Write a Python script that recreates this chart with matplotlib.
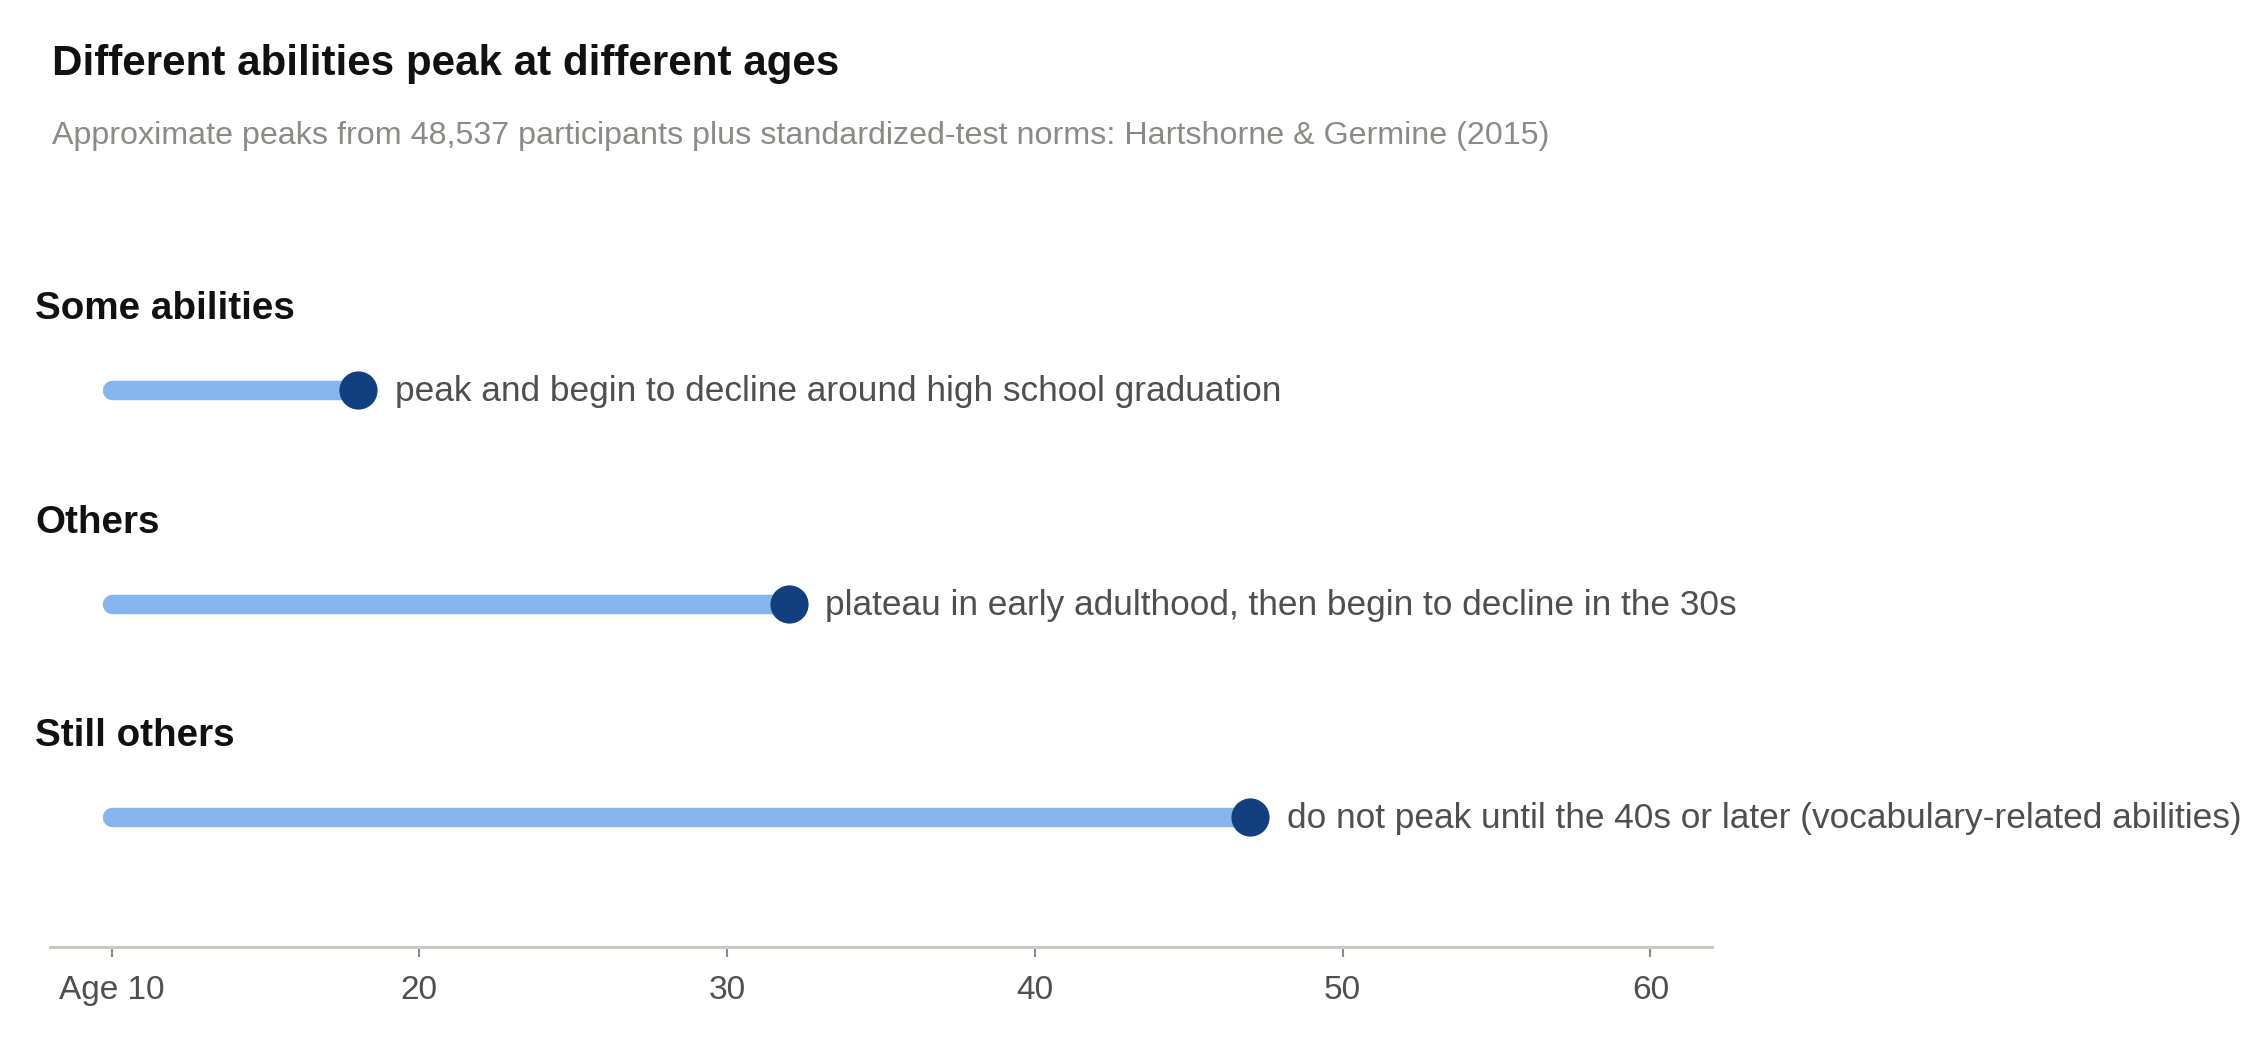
import matplotlib
matplotlib.use("Agg")
import matplotlib.pyplot as plt
from matplotlib.transforms import blended_transform_factory

# data
groups = ["Some abilities", "Others", "Still others"]
notes = [
    "peak and begin to decline around high school graduation",
    "plateau in early adulthood, then begin to decline in the 30s",
    "do not peak until the 40s or later (vocabulary-related abilities)",
]
start_age = 10
peak_ages = [18, 32, 47]
tick_ages = [10, 20, 30, 40, 50, 60]
tick_labels = ["Age 10", "20", "30", "40", "50", "60"]

title = "Different abilities peak at different ages"
subtitle = ("Approximate peaks from 48,537 participants plus "
            "standardized-test norms: Hartshorne & Germine (2015)")

plt.rcParams["font.family"] = ["Liberation Sans", "DejaVu Sans"]

W, H = 2256, 1040
fig = plt.figure(figsize=(W / 100, H / 100), dpi=100)

# axes placed in pixel terms of the reference
ax_left, ax_right = 50, 1712
ax_top, ax_bottom = 150, 947
ax = fig.add_axes([ax_left / W, 1 - ax_bottom / H,
                   (ax_right - ax_left) / W, (ax_bottom - ax_top) / H])

row0, row_gap = 390, 213.5
ax.set_xlim(8, 62)
ax.set_ylim((ax_bottom - row0) / row_gap, (ax_top - row0) / row_gap)

line_col = "#86b5ed"
dot_col = "#123f80"
text_col = "#4f4f4f"

label_tr = blended_transform_factory(fig.transFigure, ax.transData)

for i, (g, note, peak) in enumerate(zip(groups, notes, peak_ages)):
    ax.plot([start_age, peak], [i, i], color=line_col, lw=14,
            solid_capstyle="round", zorder=2)
    ax.plot([peak], [i], "o", color=dot_col, ms=27.5, mew=0, zorder=3)
    ax.annotate(note, xy=(peak, i), xytext=(26.5, -8.2),
                textcoords="offset points", va="baseline", ha="left",
                fontsize=25.4, color=text_col, annotation_clip=False)
    ax.text(35 / W, i - 70.5 / row_gap, g, transform=label_tr,
            fontsize=27.8, fontweight="bold", color="#111111",
            va="baseline", ha="left")

for s in ["top", "left", "right"]:
    ax.spines[s].set_visible(False)
ax.spines["bottom"].set_color("#c8c8c1")
ax.spines["bottom"].set_linewidth(2.2)
ax.set_yticks([])
ax.set_xticks(tick_ages)
ax.set_xticklabels(tick_labels)
ax.tick_params(axis="x", length=7, width=1.5, color="#8a8a8a",
               labelsize=24, labelcolor=text_col, pad=13.5)

fig.text(52 / W, 1 - 74.5 / H, title, fontsize=30.3, fontweight="bold",
         color="#111111", va="baseline", ha="left")
fig.text(52 / W, 1 - 144 / H, subtitle, fontsize=23.2, color="#8a8a86",
         va="baseline", ha="left")

fig.savefig("out.png", dpi=100, facecolor="white")
